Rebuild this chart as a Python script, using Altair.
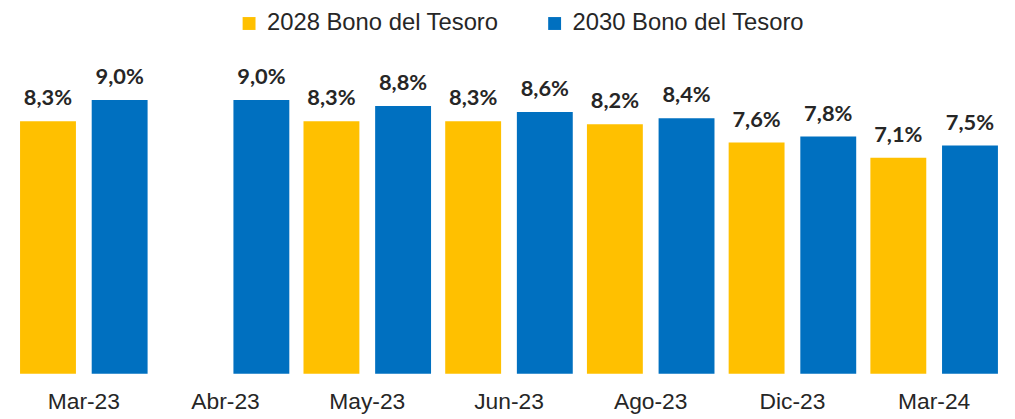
import altair as alt
import pandas as pd

categories = ["Mar-23", "Abr-23", "May-23", "Jun-23", "Ago-23", "Dic-23", "Mar-24"]
series = ["2028 Bono del Tesoro", "2030 Bono del Tesoro"]
bono_2028 = [8.3, None, 8.3, 8.3, 8.2, 7.6, 7.1]
bono_2030 = [9.0, 9.0, 8.8, 8.6, 8.4, 7.8, 7.5]
colors = ["#FFC000", "#0070C0"]

rows = []
for cat, a, b in zip(categories, bono_2028, bono_2030):
    for s, v in ((series[0], a), (series[1], b)):
        if v is None:
            continue
        rows.append({"cat": cat, "serie": s, "val": v,
                     "label": f"{v:.1f}".replace(".", ",") + "%"})
df = pd.DataFrame(rows)

x = alt.X("cat:N", sort=categories, title=None,
          scale=alt.Scale(paddingInner=0.1, paddingOuter=0.05),
          axis=alt.Axis(labelAngle=0, ticks=False, domain=False, grid=False,
                        labelFont="Liberation Sans", labelFontSize=23,
                        labelColor="#262626", labelPadding=17))
xo = alt.XOffset("serie:N", sort=series, scale=alt.Scale(paddingInner=0.22, paddingOuter=0))
y = alt.Y("val:Q", axis=None, scale=alt.Scale(domain=[0, 9], nice=False, zero=True))

bars = alt.Chart(df).mark_bar().encode(
    x=x, xOffset=xo, y=y,
    color=alt.Color("serie:N", sort=series, scale=alt.Scale(domain=series, range=colors),
                    legend=alt.Legend(title=None, orient="none", legendX=226, legendY=-89,
                                      direction="horizontal", symbolType="square",
                                      symbolSize=169, symbolStrokeWidth=0,
                                      labelFont="Liberation Sans", labelLimit=0,
                                      labelFontSize=24, labelColor="#262626", labelOffset=6,
                                      columnPadding=44, symbolOpacity=1)),
)

labels = alt.Chart(df).mark_text(font="Lato", fontWeight="bold", fontSize=22, color="#262626",
                                 baseline="alphabetic", dy=-16).encode(
    x=x, xOffset=xo, y=y, text="label:N")

chart = (bars + labels).properties(
    width=1000, height=276,
    background="white",
    autosize=alt.AutoSizeParams(type="none"),
    padding={"left": 5, "top": 91, "right": 2, "bottom": 40},
).configure_view(stroke=None)

chart.save("out.html", embed_options={"renderer": "svg", "actions": False})
